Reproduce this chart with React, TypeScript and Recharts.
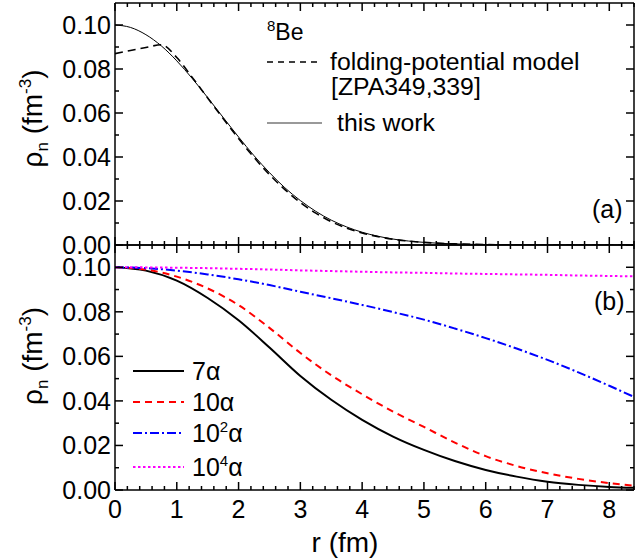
import React from 'react';
import { LineChart, Line, XAxis, YAxis, Label } from 'recharts';

// panel (a): 8Be neutron density
const rTop = [0, 0.25, 0.5, 0.75, 1, 1.25, 1.5, 1.75, 2, 2.25, 2.5, 2.75, 3, 3.25, 3.5, 3.75, 4, 4.5, 5, 5.5, 6, 7, 8.4];
const thisWork = [0.1, 0.0989, 0.0956, 0.0905, 0.0837, 0.0757, 0.067, 0.058, 0.0491, 0.0406, 0.0329, 0.026, 0.0202, 0.0153, 0.0113, 0.0082, 0.0058, 0.0027, 0.0012, 0.0005, 0.0002, 0, 0];
const folding = [0.087, 0.0884, 0.0898, 0.091, 0.0852, 0.0762, 0.0668, 0.0575, 0.0484, 0.0398, 0.032, 0.0252, 0.0193, 0.0145, 0.0106, 0.0077, 0.0055, 0.0026, 0.0012, 0.0005, 0.0002, 0, 0];

// panel (b): n-alpha systems
const rBottom = [0, 0.5, 1, 1.5, 2, 2.5, 3, 3.5, 4, 4.5, 5, 5.5, 6, 6.5, 7, 7.5, 8, 8.4];
const alpha7 = [0.1, 0.0985, 0.094, 0.0862, 0.0762, 0.064, 0.0512, 0.0405, 0.0315, 0.024, 0.018, 0.013, 0.009, 0.006, 0.0037, 0.0023, 0.0014, 0.001];
const alpha10 = [0.1, 0.099, 0.0958, 0.0905, 0.083, 0.0728, 0.0615, 0.0515, 0.043, 0.0352, 0.0283, 0.0213, 0.0152, 0.0108, 0.0075, 0.005, 0.0031, 0.0019];
const alpha1e2 = [0.1, 0.0996, 0.0985, 0.0968, 0.0946, 0.092, 0.089, 0.0861, 0.0831, 0.0799, 0.0765, 0.0725, 0.0682, 0.0635, 0.0584, 0.0528, 0.0468, 0.0418];
const alpha1e4 = [0.1, 0.09995, 0.0998, 0.0996, 0.0993, 0.099, 0.0986, 0.0983, 0.098, 0.0977, 0.0975, 0.0972, 0.097, 0.0968, 0.0966, 0.0963, 0.0961, 0.0959];

const xMajor = [0, 1, 2, 3, 4, 5, 6, 7, 8];
const yMajor = [0, 0.02, 0.04, 0.06, 0.08, 0.1];
const yMinor = [0.01, 0.03, 0.05, 0.07, 0.09];

// minor ticks every 0.2 fm
const xMinor: number[] = [];
xMajor.forEach((m) => {
  for (let k = 1; k < 5; k++) xMinor.push(Math.round((m + k * 0.2) * 10) / 10);
});

const topRows = rTop.map((r, i) => ({ r, work: thisWork[i], fold: folding[i] }));
const bottomRows = rBottom.map((r, i) => ({ r, a7: alpha7[i], a10: alpha10[i], a1e2: alpha1e2[i], a1e4: alpha1e4[i] }));

const FONT = '"Liberation Sans", Arial, sans-serif';
const AX = { stroke: '#000', strokeWidth: 1.5 };
const TL = { stroke: '#000', strokeWidth: 1.5 };
const X_DOMAIN: [number, number] = [0, 8.4];
const Y_DOMAIN: [number, number] = [0, 0.11];
const blank = () => '';
const tickFont = { fontSize: 25, fill: '#000', fontFamily: FONT };

const bottomSeries = [
  { key: 'a7', color: '#000000', dash: undefined, label: ['7', '', 'α'] },
  { key: 'a10', color: '#ff0000', dash: '7 5', label: ['10', '', 'α'] },
  { key: 'a1e2', color: '#0000ff', dash: '9 3 2 3', label: ['10', '2', 'α'] },
  { key: 'a1e4', color: '#ff00ff', dash: '2.5 2.5', label: ['10', '4', 'α'] },
];

// tick-only axes, mirrored so the ticks point into the frame
const mirrorX = (id: string, orientation: 'top' | 'bottom', ticks: number[], size: number, line: boolean) => (
  <XAxis key={id} xAxisId={id} orientation={orientation} mirror type="number" dataKey="r" domain={X_DOMAIN} allowDataOverflow
    ticks={ticks} interval={0} height={0.01} tickSize={size} tickLine={TL} tickFormatter={blank} axisLine={line ? AX : false} />
);
const mirrorY = (id: string, orientation: 'left' | 'right', ticks: number[], size: number, line: boolean) => (
  <YAxis key={id} yAxisId={id} orientation={orientation} mirror type="number" domain={Y_DOMAIN} allowDataOverflow
    ticks={ticks} interval={0} width={0.01} tickSize={size} tickLine={TL} tickFormatter={blank} axisLine={line ? AX : false} />
);

const yTitle = (shift: number) => (props: any) => {
  const vb = props.viewBox;
  const cx = vb.x + 42;
  const cy = vb.y + vb.height / 2 + shift;
  return (
    <text x={cx} y={cy} transform={`rotate(-90, ${cx}, ${cy})`} textAnchor="middle" fontSize={28} fontFamily={FONT} fill="#000">
      ρ<tspan fontSize={17} dy={6}>n</tspan>
      <tspan dy={-6}> (fm</tspan>
      <tspan fontSize={17} dy={-11}>-3</tspan>
      <tspan dy={11}>)</tspan>
    </text>
  );
};

const xTitle = (props: any) => {
  const vb = props.viewBox;
  return (
    <text x={vb.x + 230} y={vb.y + 62} textAnchor="middle" fontSize={28} fontFamily={FONT} fill="#000">
      r (fm)
    </text>
  );
};

const legendRowsY = [371, 402, 433, 467];

// key and panel tags, laid over both panels
const Overlay = () => (
  <svg width={635} height={560} style={{ position: 'absolute', left: 0, top: 0, pointerEvents: 'none', fontFamily: FONT }}>
    <text x={267} y={40} fontSize={23} fill="#000">
      <tspan fontSize={15} dy={-9}>8</tspan>
      <tspan dy={9}>Be</tspan>
    </text>
    <line x1={267} x2={318} y1={62} y2={62} stroke="#000" strokeWidth={1.6} strokeDasharray="6 5" />
    <text x={330} y={70} fontSize={24.8} fill="#000">folding-potential model</text>
    <text x={331} y={95} fontSize={24.8} fill="#000">[ZPA349,339]</text>
    <line x1={267} x2={322} y1={123} y2={123} stroke="#777" strokeWidth={1.5} />
    <text x={337} y={131} fontSize={24.8} fill="#000">this work</text>
    <text x={592} y={218} fontSize={25} fill="#000">(a)</text>
    {bottomSeries.map((s, i) => (
      <g key={s.key}>
        <line x1={133} x2={184} y1={legendRowsY[i]} y2={legendRowsY[i]} stroke={s.color} strokeWidth={2} strokeDasharray={s.dash} />
        <text x={192} y={legendRowsY[i] + 9} fontSize={25} fill="#000">
          {s.label[0]}
          {s.label[1] && <tspan fontSize={15} dy={-10}>{s.label[1]}</tspan>}
          {s.label[1] ? <tspan dy={10}>{s.label[2]}</tspan> : s.label[2]}
        </text>
      </g>
    ))}
    <text x={594} y={310} fontSize={25} fill="#000">(b)</text>
  </svg>
);

export default function App() {
  return (
    <div style={{ position: 'absolute', left: 0, top: 0, width: 635, height: 560, background: '#fff', fontFamily: FONT }}>
      <div style={{ position: 'absolute', left: 0, top: 0 }}>
        <LineChart width={635} height={262} data={topRows} margin={{ top: 3, right: 1, bottom: 17, left: 0 }}>
          <YAxis yAxisId="l" type="number" domain={Y_DOMAIN} allowDataOverflow ticks={yMajor} interval={0} width={115}
            tickSize={0} tickMargin={4} tickLine={false} axisLine={AX} tick={tickFont} tickFormatter={(v: number) => v.toFixed(2)}
            label={<Label content={yTitle(-5.5)} />} />
          {mirrorX('b', 'bottom', xMajor, 8, true)}
          {mirrorX('bm', 'bottom', xMinor, 4, false)}
          {mirrorX('t', 'top', xMajor, 8, true)}
          {mirrorX('tm', 'top', xMinor, 4, false)}
          {mirrorY('lM', 'left', yMajor, 8, false)}
          {mirrorY('lm', 'left', yMinor, 4, false)}
          {mirrorY('r', 'right', yMajor, 8, true)}
          {mirrorY('rm', 'right', yMinor, 4, false)}
          <Line xAxisId="b" yAxisId="l" type="monotone" dataKey="fold" name="folding-potential model [ZPA349,339]" stroke="#000"
            strokeWidth={1.6} strokeDasharray="8 5" dot={false} activeDot={false} isAnimationActive={false} />
          <Line xAxisId="b" yAxisId="l" type="monotone" dataKey="work" name="this work" stroke="#000"
            strokeWidth={1} dot={false} activeDot={false} isAnimationActive={false} />
        </LineChart>
      </div>
      <div style={{ position: 'absolute', left: 0, top: 243 }}>
        <LineChart width={635} height={317} data={bottomRows} margin={{ top: 2, right: 1, bottom: 0, left: 0 }}>
          <XAxis xAxisId="b" type="number" dataKey="r" domain={X_DOMAIN} allowDataOverflow ticks={xMajor} interval={0}
            height={70} tickSize={0} tickMargin={10} tickLine={false} axisLine={AX} tick={tickFont}
            label={<Label content={xTitle} />} />
          <YAxis yAxisId="l" type="number" domain={Y_DOMAIN} allowDataOverflow ticks={yMajor} interval={0} width={115}
            tickSize={0} tickMargin={4} tickLine={false} axisLine={AX} tick={tickFont} tickFormatter={(v: number) => v.toFixed(2)}
            label={<Label content={yTitle(-11.5)} />} />
          {mirrorX('bM', 'bottom', xMajor, 8, false)}
          {mirrorX('bm', 'bottom', xMinor, 4, false)}
          {mirrorX('t', 'top', xMajor, 8, true)}
          {mirrorX('tm', 'top', xMinor, 4, false)}
          {mirrorY('lM', 'left', yMajor, 8, false)}
          {mirrorY('lm', 'left', yMinor, 4, false)}
          {mirrorY('r', 'right', yMajor, 8, true)}
          {mirrorY('rm', 'right', yMinor, 4, false)}
          {bottomSeries.map((s) => (
            <Line key={s.key} xAxisId="b" yAxisId="l" type="monotone" dataKey={s.key} name={s.label.join('')} stroke={s.color}
              strokeWidth={2} strokeDasharray={s.dash} dot={false} activeDot={false} isAnimationActive={false} />
          ))}
        </LineChart>
      </div>
      <Overlay />
    </div>
  );
}
